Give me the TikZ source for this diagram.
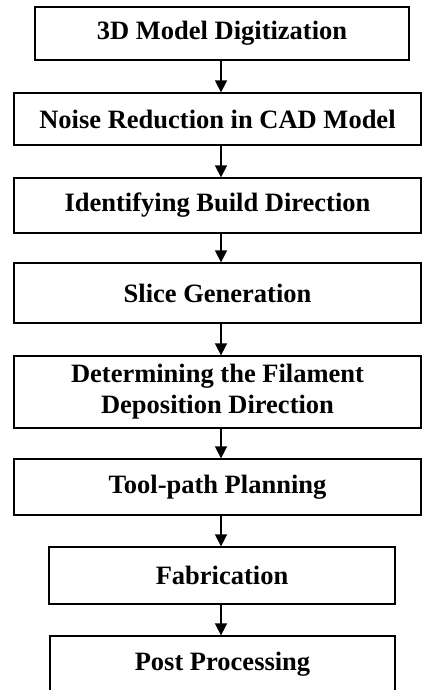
\documentclass[tikz,border=0pt]{standalone}
\usepackage{fontspec}
\setmainfont{Liberation Serif}
\usetikzlibrary{arrows.meta}

\tikzset{
	stage/.style={draw, line width=1.3pt, inner sep=0pt, align=center,
		font=\fontsize{26.5}{31}\selectfont\bfseries},
	flow/.style={line width=1.6pt, -{Triangle[length=12pt,width=12pt]}}
}

\begin{document}
\begin{tikzpicture}[x=1pt,y=1pt]
	
	\useasboundingbox (0,0) rectangle (422,-690);
	
	\node[stage, minimum width=374, minimum height=53] (digit) at (222,-33.5) {3D Model Digitization};
	\node[stage, minimum width=407, minimum height=52] (noise) at (217.5,-119) {Noise Reduction in CAD Model};
	\node[stage, minimum width=407, minimum height=55] (build) at (217.5,-205.5) {Identifying Build Direction};
	\node[stage, minimum width=407, minimum height=60] (slice) at (217.5,-293) {Slice Generation};
	\node[stage, minimum width=407, minimum height=72] (depo) at (217.5,-392) {Determining the Filament\\Deposition Direction};
	\node[stage, minimum width=407, minimum height=56] (path) at (217.5,-487) {Tool-path Planning};
	\node[stage, minimum width=346, minimum height=57] (fab) at (222,-575.5) {Fabrication};
	\node[stage, minimum width=345, minimum height=57] (post) at (222.5,-664.5) {Post Processing};
	
	% arrows all run down one line
	\coordinate (spine) at (221,0);
	\draw[flow] (spine |- digit.south) -- (spine |- noise.north);
	\draw[flow] (spine |- noise.south) -- (spine |- build.north);
	\draw[flow] (spine |- build.south) -- (spine |- slice.north);
	\draw[flow] (spine |- slice.south) -- (spine |- depo.north);
	\draw[flow] (spine |- depo.south) -- (spine |- path.north);
	\draw[flow] (spine |- path.south) -- (spine |- fab.north);
	\draw[flow] (spine |- fab.south) -- (spine |- post.north);
	
\end{tikzpicture}
\end{document}
